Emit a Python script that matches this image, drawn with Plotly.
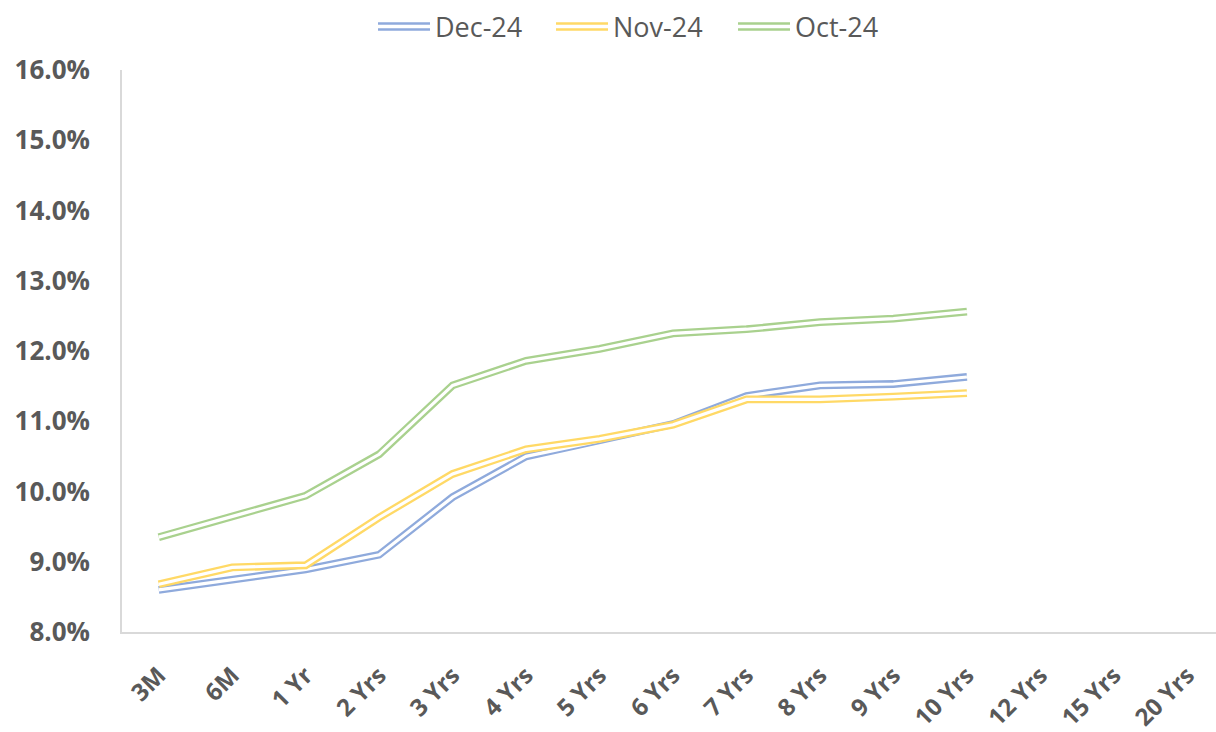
import plotly.graph_objects as go

# Yield curve tenors and monthly curves (%)
tenors = ["3M", "6M", "1 Yr", "2 Yrs", "3 Yrs", "4 Yrs", "5 Yrs", "6 Yrs",
          "7 Yrs", "8 Yrs", "9 Yrs", "10 Yrs", "12 Yrs", "15 Yrs", "20 Yrs"]

dec_24 = [8.60, 8.75, 8.89, 9.10, 9.92, 10.50, 10.72, 10.96, 11.36, 11.51, 11.53, 11.63, None, None, None]
nov_24 = [8.68, 8.92, 8.95, 9.63, 10.25, 10.60, 10.75, 10.95, 11.31, 11.31, 11.35, 11.40, None, None, None]
oct_24 = [9.35, 9.65, 9.94, 10.53, 11.51, 11.86, 12.03, 12.25, 12.31, 12.41, 12.46, 12.56, None, None, None]

series_names = ["Dec-24", "Nov-24", "Oct-24"]
series_values = [dec_24, nov_24, oct_24]
series_colors = ["#8FAADC", "#FFD966", "#A9D18E"]

TEXT = "#595959"
AXIS = "#D9D9D9"
FONT = "Open Sans"

W, H = 1216, 732
ML, MR, MT, MB = 122, 0, 70, 100

fig = go.Figure()

# Double-stroke lines: a wide coloured stroke with a thin white core
for name, vals, col in zip(series_names, series_values, series_colors):
    y = [v / 100 if v is not None else None for v in vals]
    fig.add_trace(go.Scatter(x=tenors, y=y, mode="lines", name=name,
                             line=dict(color=col, width=7.8),
                             showlegend=False, hoverinfo="skip"))
    fig.add_trace(go.Scatter(x=tenors, y=y, mode="lines", name=name,
                             line=dict(color="white", width=3.2),
                             showlegend=False, hoverinfo="skip"))

# Legend drawn as paper-referenced double strokes with labels
pw = W - ML - MR
ph = H - MT - MB


def px_x(p):
    return (p - ML) / pw


def px_y(p):
    return (H - MB - p) / ph


legend_x = [378, 556, 738]
shapes = []
annotations = []
for lx, name, col in zip(legend_x, series_names, series_colors):
    for yy in (23.5, 29.5):
        shapes.append(dict(type="line", xref="paper", yref="paper",
                           x0=px_x(lx), x1=px_x(lx + 52), y0=px_y(yy), y1=px_y(yy),
                           line=dict(color=col, width=2.5)))
    annotations.append(dict(xref="paper", yref="paper", x=px_x(lx + 55), y=px_y(26.5),
                            text=name, showarrow=False, xanchor="left", yanchor="middle",
                            font=dict(family=FONT, size=27, color=TEXT)))

fig.update_layout(
    width=W, height=H,
    margin=dict(l=ML, r=MR, t=MT, b=MB),
    paper_bgcolor="white", plot_bgcolor="white",
    showlegend=False,
    shapes=shapes, annotations=annotations,
    xaxis=dict(type="category", categoryorder="array", categoryarray=tenors,
               range=[-0.5, 14.39], showgrid=False, zeroline=False,
               showline=True, linecolor=AXIS, linewidth=1.5,
               tickangle=-45, ticks="", ticklabelstandoff=18,
               tickfont=dict(family=FONT, size=24, color=TEXT, weight="bold")),
    yaxis=dict(range=[0.08, 0.16], dtick=0.01, tickformat=".1%",
               showgrid=False, zeroline=False,
               showline=True, linecolor=AXIS, linewidth=1.5,
               ticks="", ticklabelstandoff=25,
               tickfont=dict(family=FONT, size=26, color=TEXT, weight="bold")),
)

fig.write_html("out.html")
